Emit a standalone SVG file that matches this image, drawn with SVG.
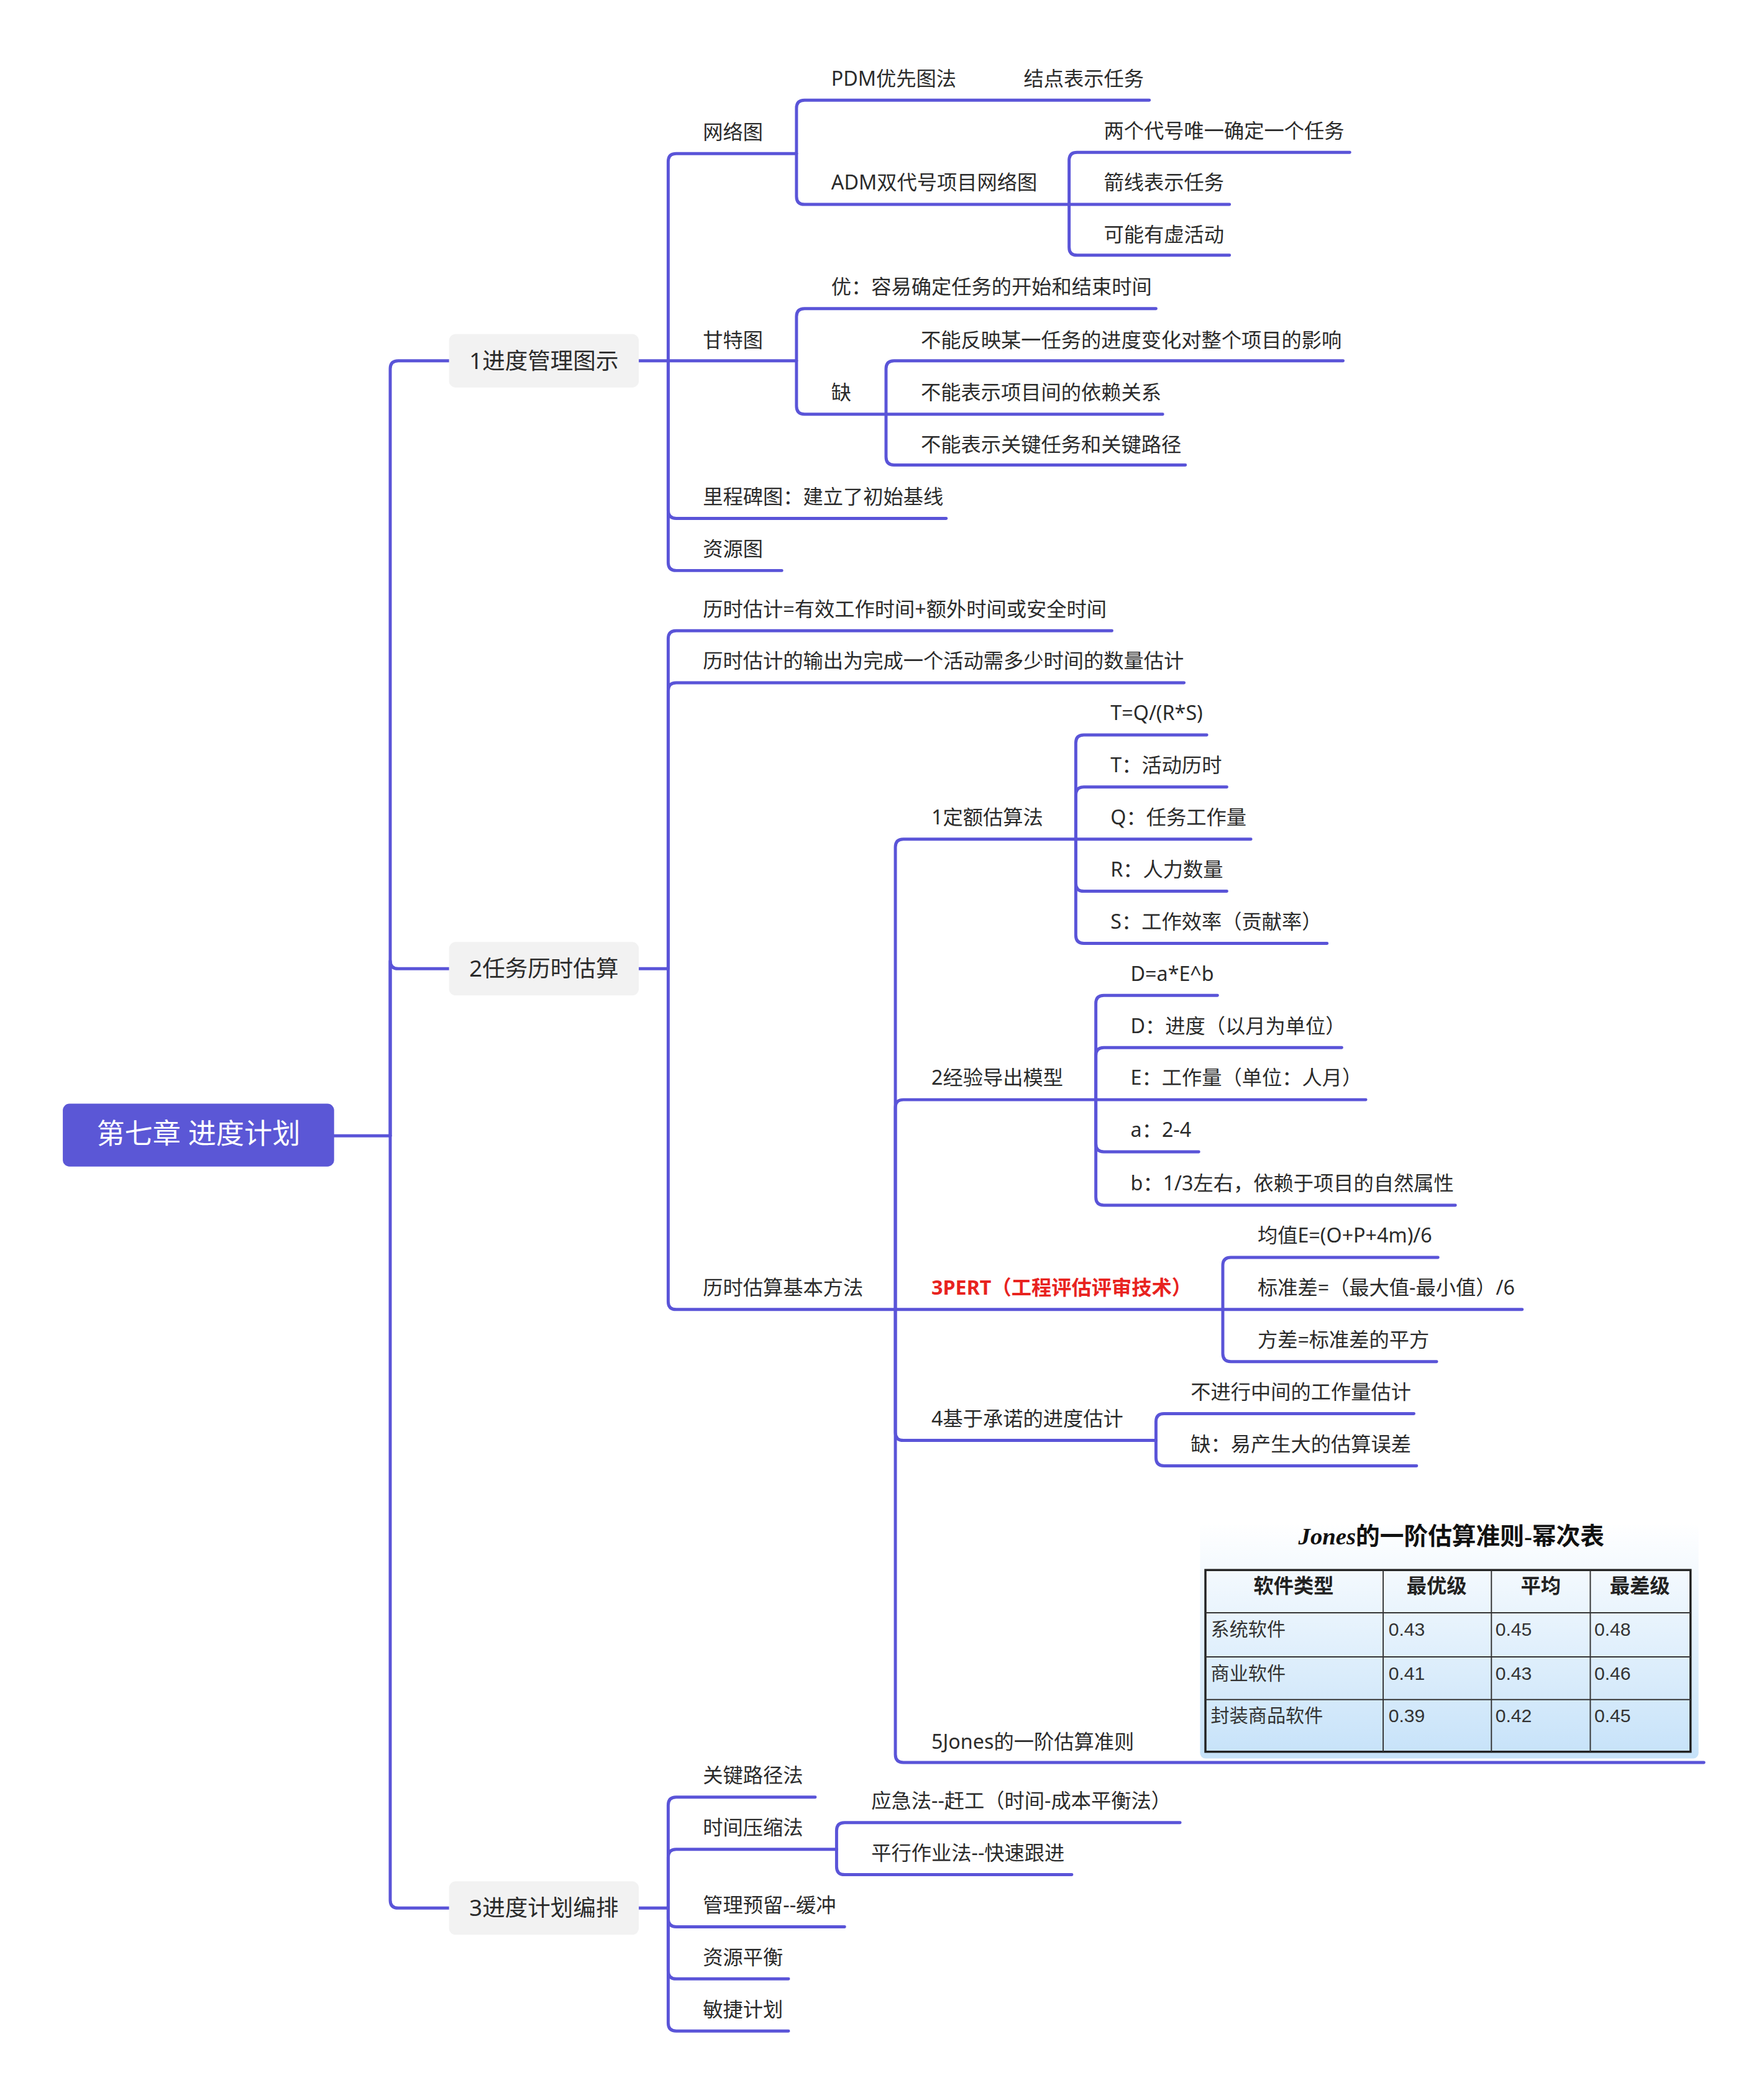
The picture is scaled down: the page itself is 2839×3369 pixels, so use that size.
<svg xmlns="http://www.w3.org/2000/svg" width="2839" height="3369" viewBox="0 0 2839 3369">
<defs>
<style>
.c{fill:none;stroke:#5a54d8;stroke-width:2.3;stroke-linecap:round;stroke-linejoin:round}
.t{font-family:"Noto Sans","Noto Sans CJK SC",sans-serif;font-size:15px;fill:#2b2b2b}
.l1{font-family:"Noto Sans","Noto Sans CJK SC",sans-serif;font-size:17px;fill:#2b2b2b}
.tb{font-family:"Liberation Sans","Noto Sans CJK SC",sans-serif;font-size:14px;fill:#333}
.th{font-family:"Liberation Serif","Noto Sans CJK SC",serif;font-size:15px;font-weight:bold;fill:#222;text-anchor:middle}
</style>
<linearGradient id="bg" x1="0" y1="0" x2="0" y2="1"><stop offset="0" stop-color="#ffffff"/><stop offset="1" stop-color="#c6e2f9"/></linearGradient>
</defs>
<rect width="2839" height="3369" fill="#fff"/>
<g transform="scale(2.1508)">
<g id="connectors">
<path class="c" d="M250 850 H292"/>
<path class="c" d="M292 850 V276 Q292 270 298 270 H336"/>
<path class="c" d="M292 850 V719 Q292 725 298 725 H336"/>
<path class="c" d="M292 850 V1422 Q292 1428 298 1428 H336"/>
<path class="c" d="M478 270 H500"/>
<path class="c" d="M500 270 V121 Q500 115 506 115 H596"/>
<path class="c" d="M500 270 H596"/>
<path class="c" d="M500 270 V382 Q500 388 506 388 H708"/>
<path class="c" d="M500 270 V421 Q500 427 506 427 H585"/>
<path class="c" d="M596 115 V81 Q596 75 602 75 H860"/>
<path class="c" d="M596 115 V147 Q596 153 602 153 H800"/>
<path class="c" d="M800 153 V120 Q800 114 806 114 H1010"/>
<path class="c" d="M800 153 H920"/>
<path class="c" d="M800 153 V185 Q800 191 806 191 H920"/>
<path class="c" d="M596 270 V237 Q596 231 602 231 H865"/>
<path class="c" d="M596 270 V304 Q596 310 602 310 H663"/>
<path class="c" d="M663 310 V276 Q663 270 669 270 H1005"/>
<path class="c" d="M663 310 H870"/>
<path class="c" d="M663 310 V342 Q663 348 669 348 H887"/>
<path class="c" d="M478 725 H500"/>
<path class="c" d="M500 725 V478 Q500 472 506 472 H832"/>
<path class="c" d="M500 725 V517 Q500 511 506 511 H886"/>
<path class="c" d="M500 725 V974 Q500 980 506 980 H670"/>
<path class="c" d="M670 980 V634 Q670 628 676 628 H805"/>
<path class="c" d="M670 980 V829 Q670 823 676 823 H820"/>
<path class="c" d="M670 980 H915"/>
<path class="c" d="M670 980 V1072 Q670 1078 676 1078 H865"/>
<path class="c" d="M670 980 V1313 Q670 1319 676 1319 H1275"/>
<path class="c" d="M805 628 V556 Q805 550 811 550 H903"/>
<path class="c" d="M805 628 V595 Q805 589 811 589 H918"/>
<path class="c" d="M805 628 H936"/>
<path class="c" d="M805 628 V661 Q805 667 811 667 H918"/>
<path class="c" d="M805 628 V700 Q805 706 811 706 H993"/>
<path class="c" d="M820 823 V751 Q820 745 826 745 H911"/>
<path class="c" d="M820 823 V790 Q820 784 826 784 H1004"/>
<path class="c" d="M820 823 H1022"/>
<path class="c" d="M820 823 V856 Q820 862 826 862 H897"/>
<path class="c" d="M820 823 V896 Q820 902 826 902 H1089"/>
<path class="c" d="M915 980 V947 Q915 941 921 941 H1076"/>
<path class="c" d="M915 980 H1139"/>
<path class="c" d="M915 980 V1013 Q915 1019 921 1019 H1075"/>
<path class="c" d="M865 1078 V1064 Q865 1058 871 1058 H1058"/>
<path class="c" d="M865 1078 V1091 Q865 1097 871 1097 H1060"/>
<path class="c" d="M478 1428 H500"/>
<path class="c" d="M500 1428 V1351 Q500 1345 506 1345 H610"/>
<path class="c" d="M500 1428 V1390 Q500 1384 506 1384 H626"/>
<path class="c" d="M500 1428 V1436 Q500 1442 506 1442 H632"/>
<path class="c" d="M500 1428 V1475 Q500 1481 506 1481 H590"/>
<path class="c" d="M500 1428 V1514 Q500 1520 506 1520 H590"/>
<path class="c" d="M626 1384 V1370 Q626 1364 632 1364 H883"/>
<path class="c" d="M626 1384 V1397 Q626 1403 632 1403 H802"/>
</g>
<g id="root"><rect x="47" y="826" width="203" height="47" rx="5" fill="#5b57d6"/><text x="148.5" y="856" font-family="Noto Sans, Noto Sans CJK SC, sans-serif" font-size="21" fill="#fff" text-anchor="middle">第七章 进度计划</text></g>
<g id="b1"><rect x="336" y="250" width="142" height="40" rx="5" fill="#f2f2f2"/><text class="l1" x="407" y="276" text-anchor="middle">1进度管理图示</text></g>
<g id="b2"><rect x="336" y="705" width="142" height="40" rx="5" fill="#f2f2f2"/><text class="l1" x="407" y="731" text-anchor="middle">2任务历时估算</text></g>
<g id="b3"><rect x="336" y="1408" width="142" height="40" rx="5" fill="#f2f2f2"/><text class="l1" x="407" y="1434" text-anchor="middle">3进度计划编排</text></g>
<g id="n1"><text class="t" x="526" y="104">网络图</text></g>
<g id="n2"><text class="t" x="622" y="64">PDM优先图法</text></g>
<g id="n3"><text class="t" x="766" y="64">结点表示任务</text></g>
<g id="n4"><text class="t" x="622" y="142">ADM双代号项目网络图</text></g>
<g id="n5"><text class="t" x="826" y="103">两个代号唯一确定一个任务</text></g>
<g id="n6"><text class="t" x="826" y="142">箭线表示任务</text></g>
<g id="n7"><text class="t" x="826" y="181">可能有虚活动</text></g>
<g id="n8"><text class="t" x="526" y="260">甘特图</text></g>
<g id="n9"><text class="t" x="622" y="220">优：容易确定任务的开始和结束时间</text></g>
<g id="n10"><text class="t" x="622" y="299">缺</text></g>
<g id="n11"><text class="t" x="689" y="260">不能反映某一任务的进度变化对整个项目的影响</text></g>
<g id="n12"><text class="t" x="689" y="299">不能表示项目间的依赖关系</text></g>
<g id="n13"><text class="t" x="689" y="338">不能表示关键任务和关键路径</text></g>
<g id="n14"><text class="t" x="526" y="377">里程碑图：建立了初始基线</text></g>
<g id="n15"><text class="t" x="526" y="416">资源图</text></g>
<g id="n16"><text class="t" x="526" y="461">历时估计=有效工作时间+额外时间或安全时间</text></g>
<g id="n17"><text class="t" x="526" y="500">历时估计的输出为完成一个活动需多少时间的数量估计</text></g>
<g id="n18"><text class="t" x="526" y="969">历时估算基本方法</text></g>
<g id="n19"><text class="t" x="697" y="617">1定额估算法</text></g>
<g id="n20"><text class="t" x="831" y="539">T=Q/(R*S)</text></g>
<g id="n21"><text class="t" x="831" y="578">T：活动历时</text></g>
<g id="n22"><text class="t" x="831" y="617">Q：任务工作量</text></g>
<g id="n23"><text class="t" x="831" y="656">R：人力数量</text></g>
<g id="n24"><text class="t" x="831" y="695">S：工作效率（贡献率）</text></g>
<g id="n25"><text class="t" x="697" y="812">2经验导出模型</text></g>
<g id="n26"><text class="t" x="846" y="734">D=a*E^b</text></g>
<g id="n27"><text class="t" x="846" y="773">D：进度（以月为单位）</text></g>
<g id="n28"><text class="t" x="846" y="812">E：工作量（单位：人月）</text></g>
<g id="n29"><text class="t" x="846" y="851">a：2-4</text></g>
<g id="n30"><text class="t" x="846" y="891">b：1/3左右，依赖于项目的自然属性</text></g>
<g id="n31"><text class="t" x="697" y="969" style="fill:#e8231f;font-weight:bold">3PERT（工程评估评审技术）</text></g>
<g id="n32"><text class="t" x="941" y="930">均值E=(O+P+4m)/6</text></g>
<g id="n33"><text class="t" x="941" y="969">标准差=（最大值-最小值）/6</text></g>
<g id="n34"><text class="t" x="941" y="1008">方差=标准差的平方</text></g>
<g id="n35"><text class="t" x="697" y="1067">4基于承诺的进度估计</text></g>
<g id="n36"><text class="t" x="891" y="1047">不进行中间的工作量估计</text></g>
<g id="n37"><text class="t" x="891" y="1086">缺：易产生大的估算误差</text></g>
<g id="n38"><text class="t" x="697" y="1309">5Jones的一阶估算准则</text>
<rect x="898" y="1140" width="373" height="176" rx="4" fill="url(#bg)"/>
<text x="1086" y="1156" font-family="Liberation Serif, Noto Sans CJK SC, serif" font-size="18" font-weight="bold" fill="#111" text-anchor="middle"><tspan font-style="italic">Jones</tspan>的一阶估算准则-幂次表</text>
<rect x="902" y="1175" width="363" height="136" fill="none" stroke="#222" stroke-width="1.6"/>
<path d="M902 1207 H1265 M902 1240 H1265 M902 1272 H1265 M1035 1175 V1311 M1116 1175 V1311 M1190 1175 V1311" stroke="#333" stroke-width="0.9" fill="none"/>
<text class="th" x="968" y="1192">软件类型</text><text class="th" x="1075" y="1192">最优级</text><text class="th" x="1153" y="1192">平均</text><text class="th" x="1227" y="1192">最差级</text>
<text class="tb" x="906" y="1224">系统软件</text><text class="tb" x="1039" y="1224">0.43</text><text class="tb" x="1119" y="1224">0.45</text><text class="tb" x="1193" y="1224">0.48</text>
<text class="tb" x="906" y="1257">商业软件</text><text class="tb" x="1039" y="1257">0.41</text><text class="tb" x="1119" y="1257">0.43</text><text class="tb" x="1193" y="1257">0.46</text>
<text class="tb" x="906" y="1289">封装商品软件</text><text class="tb" x="1039" y="1289">0.39</text><text class="tb" x="1119" y="1289">0.42</text><text class="tb" x="1193" y="1289">0.45</text>
</g>
<g id="n39"><text class="t" x="526" y="1334">关键路径法</text></g>
<g id="n40"><text class="t" x="526" y="1373">时间压缩法</text></g>
<g id="n41"><text class="t" x="652" y="1353">应急法--赶工（时间-成本平衡法）</text></g>
<g id="n42"><text class="t" x="652" y="1392">平行作业法--快速跟进</text></g>
<g id="n43"><text class="t" x="526" y="1431">管理预留--缓冲</text></g>
<g id="n44"><text class="t" x="526" y="1470">资源平衡</text></g>
<g id="n45"><text class="t" x="526" y="1509">敏捷计划</text></g>
</g>
</svg>
